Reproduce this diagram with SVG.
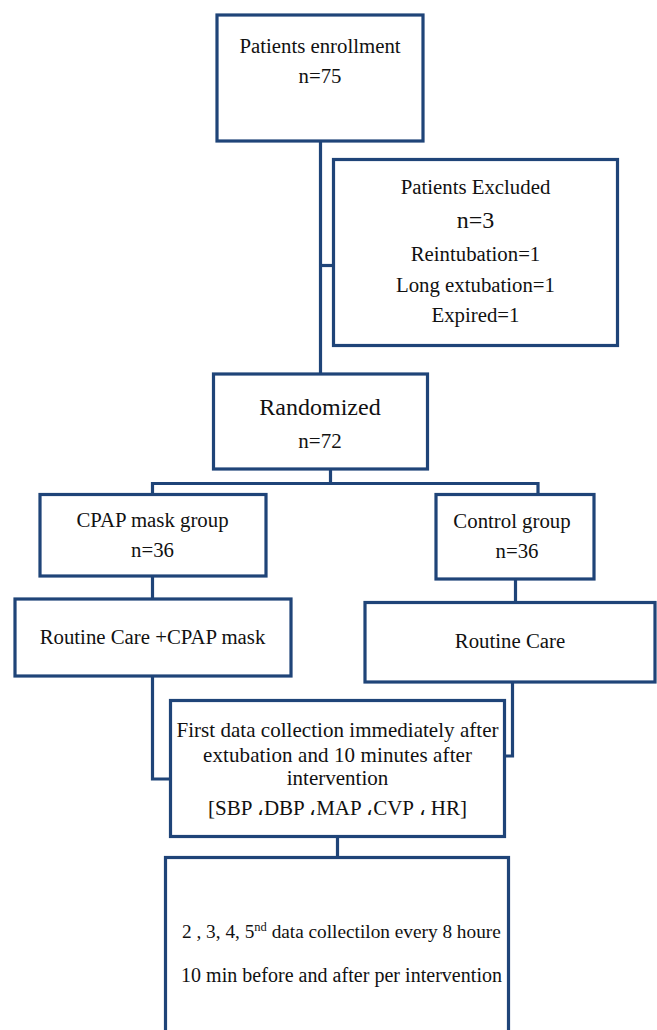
<svg xmlns="http://www.w3.org/2000/svg" width="657" height="1030" viewBox="0 0 657 1030">
<style>
.box{fill:#fff;stroke:#1f4478;stroke-width:3.2}
.con{fill:none;stroke:#1f4478;stroke-width:3.2}
text{font-family:"Liberation Serif","Times New Roman",serif;fill:#111;font-size:20.8px;text-anchor:middle}
.big{font-size:24px}
.sm{font-size:20px;text-anchor:start}
</style>
<rect width="657" height="1030" fill="#fff"/>
<g id="connectors">
<path class="con" d="M320.5 141 V374"/>
<path class="con" d="M320.5 265.5 H333.5"/>
<path class="con" d="M330.5 469 V483.5"/>
<path class="con" d="M152.5 494.5 V483.5 H538 V494.5"/>
<path class="con" d="M152.5 576 V599"/>
<path class="con" d="M515.5 579 V602.5"/>
<path class="con" d="M152.5 676 V779 H170.5"/>
<path class="con" d="M512.5 682 V756 H504.5"/>
<path class="con" d="M337.5 836.5 V857.5"/>
</g>
<g id="enroll">
<rect class="box" x="217" y="15" width="206" height="126"/>
<text x="320" y="53">Patients enrollment</text>
<text x="320" y="83">n=75</text>
</g>
<g id="excluded">
<rect class="box" x="333.5" y="159.5" width="284" height="186"/>
<text x="475.5" y="194">Patients Excluded</text>
<text x="475.5" y="228" class="big">n=3</text>
<text x="475.5" y="261">Reintubation=1</text>
<text x="475.5" y="292">Long extubation=1</text>
<text x="475.5" y="322">Expired=1</text>
</g>
<g id="randomized">
<rect class="box" x="213.5" y="374" width="214" height="95"/>
<text x="320" y="415" class="big">Randomized</text>
<text x="320" y="448" style="font-size:21px">n=72</text>
</g>
<g id="cpap-group">
<rect class="box" x="40" y="494.5" width="226" height="81.5"/>
<text x="152.5" y="527">CPAP mask group</text>
<text x="152.5" y="557">n=36</text>
</g>
<g id="control-group">
<rect class="box" x="436" y="494.5" width="158" height="84.5"/>
<text x="512" y="528">Control group</text>
<text x="517" y="558">n=36</text>
</g>
<g id="routine-cpap">
<rect class="box" x="15" y="599" width="276" height="77"/>
<text x="152.5" y="644">Routine Care +CPAP mask</text>
</g>
<g id="routine">
<rect class="box" x="365" y="602.5" width="290" height="79.5"/>
<text x="510" y="648">Routine Care</text>
</g>
<g id="first-data">
<rect class="box" x="170.5" y="700.5" width="334" height="136"/>
<text x="337.5" y="737" style="font-size:21px" textLength="322" lengthAdjust="spacing">First data collection immediately after</text>
<text x="337.5" y="762" style="font-size:21px" textLength="269" lengthAdjust="spacing">extubation and 10 minutes after</text>
<text x="337.5" y="785" style="font-size:21px">intervention</text>
<text x="337.5" y="815" style="font-size:21px">[SBP ،DBP ،MAP ،CVP ، HR]</text>
</g>
<g id="later-data">
<rect class="box" x="165.5" y="857.5" width="343" height="200"/>
<text x="182" y="938" class="sm" style="font-size:19.3px">2 , 3, 4, 5<tspan dy="-7" style="font-size:12.5px">nd</tspan><tspan dy="7"> data collectilon every 8 houre</tspan></text>
<text x="181" y="982" class="sm" textLength="321" lengthAdjust="spacing">10 min before and after per intervention</text>
</g>
</svg>
